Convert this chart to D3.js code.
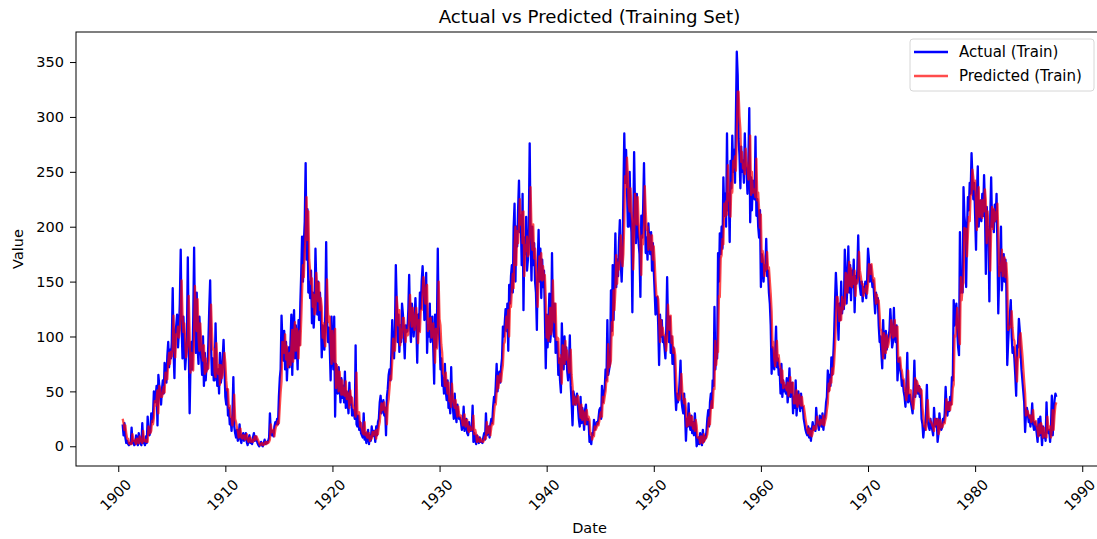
<!DOCTYPE html>
<html>
<head>
<meta charset="utf-8">
<script src="https://cdn.jsdelivr.net/npm/d3@7"></script>
<style>
  body { margin: 0; background: #fff; }
  svg { display: block; font-family: "DejaVu Sans", sans-serif; }
</style>
</head>
<body>
<svg id="chart" width="1097" height="539"></svg>
<script>
// Monthly series, starting June 1900, one line per calendar year.
const startYear = 1900;
const startMonth = 5; // June (0-based)

const actual = [
  20, 10, 21, 8, 3, 5, 2,
  1, 3, 2, 17, 3, 5, 1, 2, 10, 4, 1, 12,
  6, 2, 1, 21, 3, 4, 1, 9, 3, 27, 12, 10,
  13, 30, 22, 28, 50, 40, 45, 55, 19, 65, 55, 45,
  38, 52, 60, 48, 76, 70, 58, 82, 95, 72, 88, 80,
  95, 144, 88, 62, 105, 110, 120, 90, 105, 130, 179, 110,
  80, 118, 95, 70, 82, 100, 172, 95, 30, 75, 95, 70,
  115, 181, 110, 85, 140, 90, 75, 118, 95, 80, 65, 100,
  55, 85, 60, 75, 70, 95, 125, 151, 90, 65, 80, 60,
  60, 112, 75, 55, 70, 48, 85, 58, 65, 80, 97, 72,
  45, 38, 52, 28, 35, 20, 25, 14, 30, 63, 18, 12,
  8, 15, 5, 9, 20, 6, 3, 10, 12, 5, 8, 12,
  4, 1, 7, 10, 3, 5, 2, 8, 12, 5, 9, 6,
  3, 1, 0, 2, 4, 1, 0, 3, 6, 2, 4, 3,
  5, 8, 30, 12, 10, 14, 9, 18, 22, 20, 25, 20,
  45, 62, 70, 119, 95, 78, 105, 70, 95, 60, 80, 90,
  72, 95, 120, 65, 105, 124, 80, 110, 92, 70, 115, 92,
  130, 158, 191, 150, 185, 205, 258, 170, 216, 140, 150, 135,
  160, 112, 140, 108, 125, 180, 145, 120, 150, 115, 140, 122,
  81, 110, 92, 88, 120, 186, 115, 95, 108, 90, 60, 118,
  85, 70, 118, 27, 75, 60, 48, 72, 55, 40, 62, 44,
  55, 40, 68, 35, 50, 42, 30, 58, 38, 45, 28, 33,
  30, 25, 92, 20, 18, 28, 15, 22, 12, 10, 8, 30,
  6, 12, 3, 8, 15, 2, 10, 5, 18, 9, 14, 14,
  4, 18, 10, 22, 25, 40, 46, 30, 35, 42, 28, 35,
  10, 45, 52, 65, 70, 60, 85, 115, 90, 80, 105, 165,
  130, 95, 120, 86, 110, 95, 130, 120, 100, 80, 110, 104,
  105, 125, 156, 110, 95, 130, 120, 100, 115, 135, 110, 76,
  120, 105, 140, 125, 150, 164, 145, 115, 135, 158, 85, 110,
  100, 130, 95, 110, 118, 88, 57, 120, 90, 105, 180, 110,
  95, 70, 80, 55, 62, 48, 75, 50, 42, 60, 35, 40,
  30, 72, 42, 35, 25, 48, 30, 22, 38, 28, 25, 26,
  22, 15, 20, 36, 14, 18, 25, 12, 10, 22, 15, 14,
  15, 37, 4, 12, 6, 2, 10, 5, 3, 8, 4, 4,
  3, 8, 12, 6, 30, 10, 14, 18, 8, 20, 25, 21,
  36, 45, 40, 55, 75, 50, 62, 68, 58, 72, 80, 109,
  100, 112, 125, 105, 130, 87, 147, 130, 155, 165, 140, 200,
  221, 150, 200, 182, 215, 242, 195, 210, 165, 230, 124, 190,
  175, 209, 160, 170, 200, 276, 190, 151, 200, 165, 185, 150,
  140, 106, 165, 197, 150, 180, 135, 170, 145, 160, 120, 71,
  120, 90, 110, 139, 95, 105, 176, 115, 100, 130, 85, 95,
  95, 65, 80, 60, 49, 112, 85, 70, 100, 75, 90, 69,
  60, 75, 101, 55, 40, 19, 50, 45, 38, 42, 48, 37,
  25, 18, 45, 21, 35, 28, 15, 33, 38, 20, 25, 22,
  4, 8, 2, 12, 10, 24, 15, 18, 22, 20, 25, 33,
  35, 25, 55, 40, 48, 52, 70, 60, 115, 65, 70, 75,
  142, 105, 165, 115, 150, 194, 145, 170, 155, 185, 206, 167,
  150, 175, 230, 285, 240, 270, 236, 200, 200, 250, 210, 195,
  122, 200, 268, 215, 185, 230, 200, 185, 175, 136, 210, 190,
  215, 258, 210, 176, 190, 170, 203, 185, 175, 195, 160, 185,
  160, 140, 120, 135, 136, 110, 74, 120, 100, 115, 95, 100,
  90, 80, 105, 154, 110, 95, 118, 85, 100, 75, 90, 80,
  50, 33, 48, 40, 45, 60, 78, 42, 35, 30, 48, 31,
  5, 25, 18, 39, 20, 15, 28, 12, 22, 10, 30, 17,
  0, 3, 8, 2, 12, 5, 1, 15, 4, 9, 7, 13,
  25, 33, 18, 40, 48, 35, 60, 55, 127, 70, 85, 80,
  176, 150, 194, 175, 200, 180, 245, 210, 230, 200, 285, 215,
  230, 186, 260, 235, 283, 250, 270, 240, 300, 359.4, 338, 280,
  265, 235, 273, 250, 260, 240, 285, 255, 250, 230, 260, 308,
  204, 245, 215, 242, 230, 225, 282, 210, 225, 200, 190, 215,
  145, 175, 170, 150, 165, 160, 189, 155, 160, 140, 130, 110,
  66, 90, 75, 70, 85, 109, 72, 80, 65, 70, 48, 75,
  45, 60, 50, 55, 48, 62, 40, 52, 71, 45, 55, 58,
  30, 45, 35, 60, 28, 42, 50, 38, 32, 48, 35, 36,
  25, 20, 15, 12, 10, 18, 8, 16, 5, 14, 22, 15,
  18, 14, 35, 22, 20, 15, 28, 25, 18, 30, 15, 24,
  28, 40, 45, 69, 50, 65, 55, 81, 65, 80, 100, 130,
  158, 140, 120, 97, 130, 115, 150, 121, 135, 125, 179, 160,
  130, 150, 182, 140, 165, 133, 160, 145, 170, 122, 155, 148,
  160, 192, 155, 145, 138, 150, 132, 145, 140, 150, 135, 150,
  180, 170, 150, 165, 155, 145, 151, 135, 121, 140, 130, 135,
  110, 95, 100, 85, 71, 115, 90, 80, 105, 88, 95, 100,
  105, 125, 110, 90, 95, 126, 100, 95, 110, 60, 75, 80,
  70, 65, 55, 60, 50, 45, 36, 55, 85, 40, 42, 47,
  40, 35, 30, 50, 78, 45, 60, 52, 48, 55, 45, 52,
  25, 20, 8, 18, 15, 30, 56, 22, 18, 15, 25, 18,
  15, 10, 35, 20, 18, 25, 4, 12, 30, 20, 15, 17,
  25, 22, 30, 54, 35, 28, 40, 32, 45, 38, 63, 60,
  133, 110, 118, 130, 105, 90, 83, 195, 140, 150, 140, 236,
  210, 200, 145, 197, 227, 215, 240, 230, 267, 245, 225, 240,
  210, 179, 230, 255, 200, 215, 224, 205, 230, 210, 247, 220,
  157, 218, 200, 190, 132, 210, 245, 200, 215, 195, 220, 205,
  230, 180, 121, 157, 165, 200, 142, 160, 175, 150, 170, 145,
  74, 95, 110, 120, 133, 100, 85, 90, 80, 65, 46, 92,
  90, 116, 106, 85, 70, 60, 50, 40, 13, 30, 35, 30,
  22, 28, 18, 25, 39, 20, 15, 22, 18, 12, 4, 25,
  10, 27, 15, 1, 18, 8, 12, 5, 40, 15, 12, 15,
  4, 18, 46, 10, 30, 42, 48, 45
];

const predicted = [
  25, 21, 15, 19, 12, 7, 7,
  3, 2, 3, 2, 11, 5, 6, 4, 2, 7, 4, 3,
  9, 6, 4, 3, 14, 5, 6, 4, 6, 4, 18, 12,
  12, 14, 23, 20, 26, 41, 37, 43, 51, 30, 55, 52,
  45, 45, 48, 54, 49, 67, 66, 61, 76, 85, 75, 86,
  82, 89, 119, 95, 81, 102, 100, 109, 99, 106, 121, 151,
  121, 104, 112, 98, 81, 87, 93, 137, 104, 67, 85, 84,
  69, 101, 146, 115, 105, 134, 99, 87, 112, 95, 86, 78,
  92, 66, 80, 68, 72, 71, 84, 107, 129, 104, 88, 89,
  67, 63, 94, 77, 66, 74, 56, 74, 62, 65, 76, 85,
  76, 60, 51, 52, 35, 37, 27, 26, 19, 26, 47, 25,
  22, 17, 14, 8, 9, 16, 8, 7, 10, 10, 6, 8,
  11, 6, 4, 7, 8, 4, 6, 4, 6, 9, 6, 9,
  7, 5, 3, 1, 2, 3, 1, 1, 3, 4, 2, 4,
  3, 4, 6, 20, 13, 13, 15, 9, 15, 19, 19, 23,
  21, 36, 49, 59, 95, 91, 85, 102, 79, 91, 72, 78,
  85, 74, 89, 106, 77, 100, 113, 87, 107, 97, 80, 105,
  92, 115, 140, 165, 154, 178, 193, 227, 188, 214, 170, 160,
  148, 153, 127, 138, 120, 123, 158, 142, 132, 149, 124, 135,
  127, 99, 112, 97, 91, 111, 152, 122, 113, 118, 96, 75,
  105, 87, 77, 107, 53, 74, 65, 50, 68, 57, 47, 60,
  47, 53, 46, 59, 43, 49, 46, 35, 51, 40, 44, 36,
  35, 32, 27, 67, 32, 29, 31, 18, 21, 16, 12, 11,
  22, 10, 13, 8, 8, 12, 5, 9, 7, 13, 10, 13,
  14, 7, 15, 11, 18, 22, 32, 39, 33, 37, 40, 31,
  35, 20, 37, 43, 53, 64, 61, 77, 98, 89, 87, 101,
  136, 125, 110, 124, 92, 106, 99, 117, 117, 106, 95, 106,
  101, 102, 118, 138, 118, 109, 126, 117, 106, 116, 126, 113,
  94, 115, 104, 124, 124, 139, 154, 146, 130, 138, 147, 105,
  116, 107, 117, 99, 109, 112, 96, 76, 107, 89, 99, 150,
  116, 110, 93, 85, 66, 65, 55, 67, 55, 48, 58, 41,
  42, 36, 57, 44, 40, 35, 42, 32, 27, 36, 29, 27,
  28, 24, 19, 20, 29, 18, 20, 24, 15, 13, 18, 15,
  15, 16, 28, 11, 15, 11, 4, 9, 5, 4, 7, 5,
  4, 4, 6, 9, 7, 22, 12, 15, 18, 10, 17, 21,
  20, 30, 38, 38, 49, 64, 53, 61, 66, 59, 68, 74,
  93, 95, 106, 118, 108, 124, 100, 131, 127, 142, 157, 144,
  181, 200, 165, 196, 185, 201, 225, 202, 213, 185, 214, 155,
  183, 178, 191, 173, 175, 192, 236, 200, 179, 202, 171, 180,
  163, 151, 127, 152, 173, 152, 176, 151, 164, 152, 156, 135,
  99, 119, 96, 104, 126, 102, 109, 151, 119, 113, 130, 97,
  99, 98, 76, 83, 68, 57, 92, 81, 75, 96, 79, 87,
  77, 67, 74, 88, 65, 55, 38, 45, 42, 38, 43, 46,
  39, 32, 26, 38, 24, 32, 30, 20, 30, 33, 24, 27,
  24, 11, 12, 6, 9, 9, 18, 15, 17, 21, 19, 23,
  29, 31, 27, 45, 39, 45, 50, 61, 59, 93, 72, 74,
  78, 113, 101, 142, 124, 141, 174, 148, 167, 161, 174, 192,
  173, 164, 175, 204, 246, 236, 263, 248, 220, 214, 235, 213,
  205, 161, 190, 230, 208, 202, 227, 204, 193, 187, 156, 192,
  184, 201, 237, 214, 197, 200, 179, 193, 186, 179, 192, 170,
  182, 168, 151, 137, 137, 134, 118, 95, 115, 101, 108, 102,
  101, 95, 87, 99, 129, 111, 106, 119, 94, 100, 85, 89,
  83, 63, 49, 44, 42, 43, 54, 66, 50, 45, 39, 43,
  34, 18, 26, 19, 30, 23, 19, 27, 16, 21, 14, 24,
  19, 8, 8, 8, 3, 9, 6, 3, 11, 5, 8, 8,
  11, 19, 26, 20, 34, 41, 35, 52, 52, 96, 74, 85,
  86, 137, 136, 171, 174, 189, 184, 221, 209, 223, 211, 256,
  224, 231, 209, 240, 231, 260, 254, 264, 251, 281, 323, 323,
  301, 289, 259, 268, 253, 257, 248, 271, 258, 254, 243, 254,
  283, 229, 250, 231, 234, 232, 227, 262, 224, 231, 216, 199,
  211, 168, 178, 173, 155, 165, 161, 177, 162, 163, 151, 139,
  123, 90, 95, 80, 73, 82, 96, 78, 83, 74, 71, 58,
  69, 53, 58, 54, 54, 51, 58, 46, 51, 63, 49, 55,
  58, 39, 46, 39, 51, 36, 42, 47, 39, 37, 45, 37,
  37, 31, 25, 20, 15, 12, 16, 10, 14, 9, 12, 18,
  15, 18, 16, 27, 22, 22, 19, 24, 23, 20, 28, 19,
  23, 26, 33, 39, 57, 51, 61, 58, 71, 66, 75, 90,
  111, 136, 136, 129, 114, 126, 115, 136, 125, 133, 129, 158,
  155, 140, 153, 168, 146, 162, 145, 154, 148, 160, 137, 151,
  149, 153, 177, 160, 155, 148, 148, 137, 143, 141, 146, 139,
  147, 166, 164, 157, 166, 158, 150, 153, 141, 130, 138, 131,
  133, 120, 107, 105, 92, 80, 103, 90, 85, 101, 90, 93,
  98, 101, 115, 110, 99, 100, 115, 101, 100, 109, 77, 80,
  81, 71, 69, 62, 61, 54, 49, 42, 51, 69, 48, 49,
  51, 41, 38, 34, 44, 62, 48, 59, 56, 50, 54, 48,
  51, 35, 28, 18, 18, 15, 23, 42, 27, 25, 22, 22,
  19, 17, 14, 25, 20, 20, 25, 11, 14, 24, 18, 17,
  19, 22, 21, 27, 43, 35, 33, 40, 33, 40, 38, 53,
  56, 101, 100, 111, 126, 111, 101, 93, 154, 133, 146, 149,
  199, 196, 198, 173, 193, 209, 205, 229, 229, 252, 245, 234,
  242, 221, 197, 222, 236, 209, 220, 224, 208, 224, 214, 234,
  224, 185, 214, 199, 191, 160, 196, 218, 198, 216, 205, 213,
  207, 221, 195, 155, 165, 160, 179, 155, 164, 172, 154, 167,
  153, 106, 109, 108, 109, 123, 108, 98, 96, 85, 73, 59,
  81, 81, 100, 103, 93, 83, 71, 59, 48, 28, 32, 32,
  28, 26, 28, 22, 24, 33, 23, 20, 23, 18, 15, 9,
  20, 12, 21, 17, 8, 17, 9, 11, 8, 27, 17, 15,
  18, 8, 15, 33, 15, 28, 37, 40
];

const xTickYears = [1900, 1910, 1920, 1930, 1940, 1950, 1960, 1970, 1980, 1990];
const yTickValues = [0, 50, 100, 150, 200, 250, 300, 350];

const titleText = "Actual vs Predicted (Training Set)";
const xLabelText = "Date";
const yLabelText = "Value";
const legendLabels = ["Actual (Train)", "Predicted (Train)"];

// ---- layout ----
const plot = { left: 76, top: 32, bottom: 466, right: 1103 };
const tickFont = 14.5;
const legendFont = 15;
const lineWidth = 2.3;

const svg = d3.select("#chart");

const n = Math.min(actual.length, predicted.length);
const dates = d3.range(n).map(i => new Date(Date.UTC(startYear, startMonth + i, 1)));
const rowsA = dates.map((d, i) => ({ date: d, value: actual[i] }));
const rowsP = dates.map((d, i) => ({ date: d, value: predicted[i] }));

// axis limits padded by 5% of the data span on each side
const tExt = d3.extent(dates, d => +d);
const tPad = (tExt[1] - tExt[0]) * 0.05;
const x = d3.scaleUtc()
  .domain([new Date(tExt[0] - tPad), new Date(tExt[1] + tPad)])
  .range([plot.left, plot.right]);

const allVals = actual.slice(0, n).concat(predicted.slice(0, n));
const vExt = d3.extent(allVals);
const vPad = (vExt[1] - vExt[0]) * 0.05;
const y = d3.scaleLinear()
  .domain([vExt[0] - vPad, vExt[1] + vPad])
  .range([plot.bottom, plot.top]);

// ---- series ----
const line = d3.line().x(d => x(d.date)).y(d => y(d.value));

svg.append("path")
  .datum(rowsA)
  .attr("fill", "none")
  .attr("stroke", "#0000ff")
  .attr("stroke-width", lineWidth)
  .attr("stroke-linejoin", "round")
  .attr("d", line);

svg.append("path")
  .datum(rowsP)
  .attr("fill", "none")
  .attr("stroke", "#ff0000")
  .attr("stroke-opacity", 0.7)
  .attr("stroke-width", lineWidth)
  .attr("stroke-linejoin", "round")
  .attr("d", line);

// ---- frame ----
svg.append("rect")
  .attr("x", plot.left).attr("y", plot.top)
  .attr("width", plot.right - plot.left)
  .attr("height", plot.bottom - plot.top)
  .attr("fill", "none")
  .attr("stroke", "#000")
  .attr("stroke-width", 1);

// ---- axes ----
const xAxis = d3.axisBottom(x)
  .tickValues(xTickYears.map(yr => new Date(Date.UTC(yr, 0, 1))))
  .tickFormat(d3.utcFormat("%Y"))
  .tickSize(6)
  .tickSizeOuter(0);

const gx = svg.append("g")
  .attr("transform", `translate(0,${plot.bottom})`)
  .call(xAxis);
gx.select(".domain").remove();
gx.selectAll(".tick line").attr("stroke", "#000").attr("stroke-width", 1);
gx.selectAll(".tick text")
  .attr("font-size", tickFont)
  .attr("font-family", "DejaVu Sans, sans-serif")
  .attr("fill", "#000")
  .attr("text-anchor", "middle")
  .attr("dominant-baseline", "central")
  .attr("dy", null)
  .attr("y", 0)
  .attr("transform", "translate(-3,29) rotate(-45)");

const yAxis = d3.axisLeft(y)
  .tickValues(yTickValues)
  .tickSize(6)
  .tickSizeOuter(0)
  .tickPadding(6);

const gy = svg.append("g")
  .attr("transform", `translate(${plot.left},0)`)
  .call(yAxis);
gy.select(".domain").remove();
gy.selectAll(".tick line").attr("stroke", "#000").attr("stroke-width", 1);
gy.selectAll(".tick text")
  .attr("font-size", tickFont)
  .attr("font-family", "DejaVu Sans, sans-serif")
  .attr("fill", "#000");

// ---- titles ----
const midX = (plot.left + plot.right) / 2;

svg.append("text")
  .attr("x", midX).attr("y", 23)
  .attr("text-anchor", "middle")
  .attr("font-size", 18.2)
  .attr("fill", "#000")
  .text(titleText);

svg.append("text")
  .attr("x", midX).attr("y", 533)
  .attr("text-anchor", "middle")
  .attr("font-size", tickFont)
  .attr("fill", "#000")
  .text(xLabelText);

svg.append("text")
  .attr("transform", `translate(23,${(plot.top + plot.bottom) / 2}) rotate(-90)`)
  .attr("text-anchor", "middle")
  .attr("font-size", tickFont)
  .attr("fill", "#000")
  .text(yLabelText);

// ---- legend ----
const lg = svg.append("g").attr("transform", "translate(910,39)");
lg.append("rect")
  .attr("width", 184).attr("height", 52)
  .attr("rx", 3).attr("ry", 3)
  .attr("fill", "#fff").attr("fill-opacity", 0.8)
  .attr("stroke", "#d6d6d6").attr("stroke-width", 1);

const legendStyles = [
  { color: "#0000ff", opacity: 1 },
  { color: "#ff0000", opacity: 0.7 }
];
legendLabels.forEach((label, i) => {
  const cy = 13 + i * 24;
  lg.append("line")
    .attr("x1", 4).attr("x2", 38)
    .attr("y1", cy).attr("y2", cy)
    .attr("stroke", legendStyles[i].color)
    .attr("stroke-opacity", legendStyles[i].opacity)
    .attr("stroke-width", lineWidth);
  lg.append("text")
    .attr("x", 49).attr("y", cy)
    .attr("dominant-baseline", "central")
    .attr("font-size", legendFont)
    .attr("fill", "#000")
    .text(label);
});
</script>
</body>
</html>
